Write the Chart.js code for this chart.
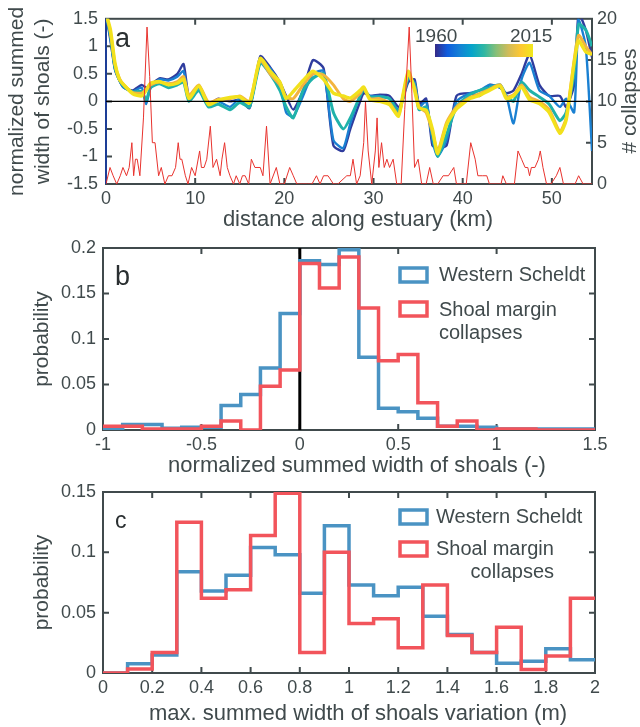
<!DOCTYPE html>
<html>
<head>
<meta charset="utf-8">
<script src="https://cdn.jsdelivr.net/npm/chart.js@4.4.1/dist/chart.umd.min.js"></script>
<style>
  html, body { margin: 0; padding: 0; background: #fff; }
  #wrap { position: relative; width: 640px; height: 727px; }
  canvas { position: absolute; left: 0; top: 0; }
</style>
</head>
<body>
<div id="wrap">
  <canvas id="panel_a" width="640" height="727"></canvas>
  <canvas id="panel_b" width="640" height="727"></canvas>
  <canvas id="panel_c" width="640" height="727"></canvas>
</div>
<script>
// ---- panel a: shoal width along the estuary, some survey years ----
const kmA = [0, 0.5, 1, 1.5, 2, 3, 4, 4.5, 5, 6, 7, 8, 8.7, 9.3, 10.4, 11.5, 12.6, 13.9, 15, 16.1,
  17.3, 18.4, 19.5, 20.2, 21, 22.1, 23.2, 24.4, 25.5, 26.6, 27.4, 28.5, 28.9, 29.6, 30.7, 31.8,
  32.8, 33.3, 33.9, 34.6, 35.1, 35.9, 36.6, 37.2, 38.2, 39.3, 40.8, 41.9, 43, 44.2, 44.9, 45.7,
  46.6, 47.5, 48.6, 49.7, 50.9, 51.6, 52.5, 53, 53.8, 54.5];

const shoal1960 = [1.6, 1.1, 0.58, 0.38, 0.25, 0.2, 0.3, 0.25, 0.3, 0.42, 0.4, 0.5, 0.68, 0.1, 0.28, -0.05, 0.05,
  0.0, 0.03, -0.12, 0.82, 0.62, 0.35, 0.1, -0.15, 0.2, 0.75, 0.6, -0.8, -0.9, -0.5, 0.0, 0.15,
  0.1, 0.12, 0.1, -0.1, 0.05, 0.35, 0.4, -0.05, 0.05, -0.8, -0.85, -0.8, 0.1, 0.15, 0.1, 0.3,
  0.25, 0.15, 0.2, 0.5, 0.85, 0.3, 0.1, 0.1, -0.1, 0.3, 1.6, 1.3, 0.8];
const shoal1975 = [1.6, 1.15, 0.6, 0.38, 0.25, 0.18, 0.25, -0.05, 0.25, 0.4, 0.38, 0.45, 0.55, 0.05, 0.25, -0.08, 0.0,
  -0.1, 0.05, -0.1, 0.72, 0.6, 0.3, -0.2, -0.28, 0.1, 0.5, 0.55, -0.7, -0.85, -0.4, 0.1, 0.2,
  0.1, 0.1, 0.05, -0.15, 0.05, 0.4, 0.35, -0.1, 0.0, -0.7, -1.0, -0.7, 0.0, 0.15, 0.2, 0.3,
  0.25, 0.1, -0.4, 0.4, 0.7, 0.2, 0.1, -0.1, 0.05, -0.2, 1.5, 1.0, -0.9];
const shoal1990 = [1.6, 1.2, 0.62, 0.4, 0.27, 0.17, 0.18, 0.02, 0.25, 0.32, 0.25, 0.3, 0.35, 0.0, 0.2, -0.1, -0.05,
  -0.15, -0.02, -0.1, 0.7, 0.5, 0.2, -0.1, -0.3, 0.2, 0.42, 0.5, -0.2, -0.5, -0.3, 0.1, 0.22,
  0.08, 0.08, 0.05, -0.2, 0.05, 0.45, 0.3, -0.15, -0.1, -0.6, -1.0, -0.6, -0.1, 0.12, 0.2, 0.25,
  0.3, 0.1, 0.0, 0.35, 0.2, 0.08, -0.05, -0.35, -0.2, 0.5, 1.4, 1.3, 1.0];
const shoal2005 = [1.6, 1.25, 0.68, 0.42, 0.3, 0.16, 0.15, 0.22, 0.3, 0.35, 0.32, 0.36, 0.45, 0.1, 0.3, -0.02, 0.04,
  0.05, 0.1, 0.0, 0.75, 0.5, 0.3, 0.08, 0.05, 0.3, 0.5, 0.48, 0.3, 0.05, 0.0, 0.15, 0.25,
  0.05, 0.05, -0.03, -0.25, 0.1, 0.5, 0.25, -0.1, -0.2, -0.55, -0.9, -0.38, -0.1, 0.07, 0.14, 0.22,
  0.3, 0.08, 0.12, 0.3, 0.08, 0.0, -0.15, -0.55, -0.3, 0.75, 1.2, 1.0, 0.85];
const shoal2015 = [1.6, 1.3, 0.7, 0.4, 0.3, 0.14, 0.1, 0.2, 0.33, 0.36, 0.3, 0.33, 0.4, 0.05, 0.28, -0.06, 0.02,
  0.07, 0.08, -0.03, 0.78, 0.55, 0.35, 0.05, 0.18, 0.38, 0.55, 0.4, 0.15, 0.1, 0.06, 0.2, 0.26,
  0.03, 0.0, -0.06, -0.27, 0.12, 0.55, 0.2, -0.12, -0.16, -0.5, -0.95, -0.42, -0.14, 0.05, 0.11, 0.2,
  0.28, 0.05, 0.1, 0.26, 0.03, -0.04, -0.2, -0.58, -0.34, 0.7, 1.1, 0.9, 0.85];

const collapseKm = [0, 0.45, 0.8, 1.2, 1.6, 1.9, 2.3, 2.6, 2.9, 3.1,
  3.3, 3.5, 3.8, 4.2, 4.6, 4.9, 5.2, 5.5, 5.9, 6.2,
  6.6, 7.0, 7.4, 7.8, 8.1, 8.3, 8.5, 8.9, 9.2, 9.6,
  10.0, 10.5, 10.7, 11.0, 11.3, 11.7, 12.0, 12.4, 12.8, 13.0,
  13.3, 13.6, 13.9, 14.3, 14.6, 15.0, 15.3, 15.6, 16.0, 16.3,
  16.7, 17.3, 17.6, 18.0, 18.4, 19.1, 19.5, 20.0, 20.6, 21.0,
  21.4, 22.0, 22.6, 23.1, 23.6, 24.0, 24.4, 24.9, 25.5, 26.0,
  27.0, 27.4, 27.7, 28.1, 28.5, 28.9, 29.1, 29.4, 29.8, 30.2,
  30.4, 30.6, 30.9, 31.2, 31.5, 31.8, 32.2, 32.6, 33.1, 33.5,
  34.0, 34.3, 34.6, 35.0, 35.4, 35.9, 36.3, 36.7, 37.2, 37.8,
  38.4, 39.0, 39.3, 40.0, 40.4, 40.9, 41.4, 41.7, 42.2, 42.7,
  43.0, 44.3, 44.5, 44.9, 45.8, 46.2, 46.6, 47.0, 47.3, 47.5,
  47.7, 48.1, 48.5, 48.7, 49.0, 49.4, 49.9, 50.5, 50.9, 51.3,
  52.6, 53.0, 53.5, 54.5];
const collapseCount = [0, 2, 1, 0, 1, 2, 1, 2, 5, 1,
  3, 3, 1, 8, 19, 13, 5, 5, 1, 2,
  0, 1, 1, 2, 5, 3, 3, 1, 0, 2,
  1, 4, 2, 2, 3, 7, 2, 3, 1, 3,
  5, 2, 1, 0, 1, 0, 1, 1, 0, 3,
  2, 2, 1, 7, 0, 2, 0, 0, 2, 1,
  0, 0, 0, 0, 1, 0, 1, 1, 0, 0,
  1, 1, 3, 0, 1, 5, 10, 4, 0, 4,
  8, 2, 5, 2, 3, 2, 3, 0, 0, 9,
  19, 11, 2, 3, 0, 0, 2, 0, 0, 1,
  1, 2, 0, 0, 0, 5, 3, 1, 1, 1,
  0, 0, 1, 0, 0, 4, 3, 2, 2, 1,
  2, 2, 3, 4, 2, 0, 0, 1, 2, 0,
  0, 1, 0, 0];

const yearRange = ["1960", "2015"];

// ---- panel b: histogram of normalized summed width ----
const edgesB = [-1, -0.9, -0.8, -0.7, -0.6, -0.5, -0.4, -0.3, -0.2, -0.1, 0, 0.1, 0.2,
  0.3, 0.4, 0.5, 0.6, 0.7, 0.8, 0.9, 1, 1.1, 1.2, 1.3, 1.4, 1.5];
const scheldtB = [0.001, 0.006, 0.006, 0.002, 0.003, 0.003, 0.027, 0.039, 0.068, 0.128,
  0.186, 0.182, 0.198, 0.080, 0.024, 0.020, 0.013, 0.004, 0.004, 0.003,
  0.001, 0.001, 0.001, 0.001, 0.001];
const collapsesB = [0.004, 0.004, 0.001, 0.001, 0.001, 0.004, 0.010, 0.000, 0.048, 0.066,
  0.183, 0.156, 0.190, 0.134, 0.076, 0.083, 0.030, 0.004, 0.010, 0.000,
  0.001, 0.001, 0.000, 0.000, 0.000];

// ---- panel c: histogram of max. summed width variation ----
const edgesC = [0, 0.1, 0.2, 0.3, 0.4, 0.5, 0.6, 0.7, 0.8, 0.9, 1, 1.1, 1.2, 1.3, 1.4,
  1.5, 1.6, 1.7, 1.8, 1.9, 2];
const scheldtC = [0, 0.0077, 0.015, 0.084, 0.068, 0.081, 0.104, 0.098, 0.066, 0.122,
  0.073, 0.064, 0.071, 0.047, 0.032, 0.017, 0.008, 0.0097, 0.020, 0.011];
const collapsesC = [0, 0.0033, 0.017, 0.125, 0.062, 0.069, 0.114, 0.149, 0.017, 0.100,
  0.041, 0.045, 0.021, 0.073, 0.031, 0.017, 0.038, 0.003, 0.014, 0.062];

const legendNames = ["Western Scheldt", "Shoal margin", "collapses"];

const GRAY = "#404a4c";
const INK = "#2a2f31";
const BLUE = "#4a93c3";
const RED = "#f2545b";
const FONT = '"Liberation Sans", Arial, Helvetica, sans-serif';

Chart.defaults.font.family = FONT;
Chart.defaults.color = GRAY;
Chart.defaults.animation = false;

function pts(xs, ys) {
  return xs.map((x, i) => ({ x: x, y: ys[i] }));
}
// stairs: one point per left bin edge, last edge repeats the last value
function stairs(edges, vals) {
  return edges.map((x, i) => ({ x: x, y: vals[Math.min(i, vals.length - 1)] }));
}
// matlab-like tick text: 1 not 1.0, 0.2 not 0.20
const plain = v => String(+Number(v).toFixed(3));

function write(ctx, s, x, y, size, color, align, rot) {
  ctx.save();
  ctx.font = size + "px " + FONT;
  ctx.fillStyle = color;
  ctx.textAlign = align || "left";
  ctx.textBaseline = "alphabetic";
  ctx.translate(x, y);
  if (rot) ctx.rotate(rot);
  ctx.fillText(s, 0, 0);
  ctx.restore();
}

// frame with inward ticks on all sides, plus extra drawing hooks
function deco(cfg) {
  return {
    id: "deco",
    beforeDatasetsDraw(chart) {
      const { ctx, chartArea: a, scales } = chart;
      ctx.save();
      ctx.strokeStyle = GRAY;
      ctx.lineWidth = 2;
      ctx.beginPath();
      scales.x.ticks.forEach(t => {
        const px = scales.x.getPixelForValue(t.value);
        if (px <= a.left + 1 || px >= a.right - 1) return;
        ctx.moveTo(px, a.bottom); ctx.lineTo(px, a.bottom - 6);
        ctx.moveTo(px, a.top); ctx.lineTo(px, a.top + 6);
      });
      scales.y.ticks.forEach(t => {
        const py = scales.y.getPixelForValue(t.value);
        if (py <= a.top + 1 || py >= a.bottom - 1) return;
        ctx.moveTo(a.left, py); ctx.lineTo(a.left + 6, py);
        if (!scales.y2) { ctx.moveTo(a.right, py); ctx.lineTo(a.right - 6, py); }
      });
      if (scales.y2) {
        scales.y2.ticks.forEach(t => {
          const py = scales.y2.getPixelForValue(t.value);
          if (py <= a.top + 1 || py >= a.bottom - 1) return;
          ctx.moveTo(a.right, py); ctx.lineTo(a.right - 6, py);
        });
      }
      ctx.stroke();
      ctx.strokeRect(a.left, a.top, a.width, a.height);
      if (cfg.leftEdge) {
        ctx.strokeStyle = cfg.leftEdge;
        ctx.beginPath();
        ctx.moveTo(a.left, a.top); ctx.lineTo(a.left, a.bottom);
        ctx.stroke();
      }
      if (cfg.before) cfg.before(chart);
      ctx.restore();
    },
    afterDatasetsDraw(chart) {
      chart.ctx.save();
      if (cfg.after) cfg.after(chart);
      chart.ctx.restore();
    }
  };
}

function drawLegend(ctx, L) {
  ctx.lineWidth = 3.5;
  ctx.strokeStyle = BLUE;
  ctx.strokeRect(400, L.b1, 27, 14);
  ctx.strokeStyle = RED;
  ctx.strokeRect(400, L.b2, 27, 14);
  write(ctx, legendNames[0], L.tx, L.t1, 20, GRAY);
  write(ctx, legendNames[1], L.tx, L.t2, 20, GRAY);
  write(ctx, legendNames[2], L.x3, L.t3, 20, GRAY, L.a3);
}

const tickFont = { size: 18 };
const titleFont = { size: 21 };

// ---------------- panel a ----------------
const yearLines = [
  { data: shoal2015, color: "#f2e11c", w: 3.4 },
  { data: shoal2005, color: "#f3b43f", w: 3 },
  { data: shoal1990, color: "#1fb2aa", w: 3 },
  { data: shoal1975, color: "#1a80d2", w: 2.4 },
  { data: shoal1960, color: "#2f3c9e", w: 2.4 }
];

new Chart(document.getElementById("panel_a"), {
  type: "line",
  data: {
    datasets: [
      {
        label: "collapses",
        data: pts(collapseKm, collapseCount),
        yAxisID: "y2",
        borderColor: "#e8332e",
        borderWidth: 1,
        pointRadius: 0
      }
    ].concat(yearLines.map(l => ({
      data: pts(kmA, l.data),
      yAxisID: "y",
      borderColor: l.color,
      borderWidth: l.w,
      pointRadius: 0,
      tension: 0.2
    })))
  },
  options: {
    responsive: false,
    layout: { padding: { top: 18, bottom: 493, left: 0, right: 0 } },
    plugins: { legend: { display: false }, tooltip: { enabled: false } },
    scales: {
      x: {
        type: "linear",
        min: 0,
        max: 54.5,
        grid: { display: false, drawTicks: false },
        border: { display: false },
        ticks: { stepSize: 10, includeBounds: false, padding: 4, font: tickFont, maxRotation: 0, callback: plain },
        afterFit: s => { s.height = 50; }
      },
      y: {
        min: -1.5,
        max: 1.5,
        grid: { display: false, drawTicks: false },
        border: { display: false },
        ticks: { stepSize: 0.5, padding: 8, font: tickFont, callback: plain },
        title: {
          display: true,
          text: ["normalized summed", "width of shoals (-)"],
          font: titleFont,
          padding: { top: 5, bottom: 0 }
        },
        afterFit: s => { s.width = 106; }
      },
      y2: {
        position: "right",
        min: 0,
        max: 20,
        grid: { display: false, drawTicks: false },
        border: { display: false },
        ticks: { stepSize: 5, padding: 5, font: tickFont, callback: plain },
        afterFit: s => { s.width = 48; }
      }
    }
  },
  plugins: [deco({
    leftEdge: "#1d3d96",
    after(chart) {
      const { ctx, chartArea: a, scales } = chart;
      const y0 = scales.y.getPixelForValue(0);
      ctx.strokeStyle = "#000";
      ctx.lineWidth = 1.2;
      ctx.beginPath();
      ctx.moveTo(a.left, y0); ctx.lineTo(a.right, y0);
      ctx.stroke();
      // colour bar
      const g = ctx.createLinearGradient(435, 0, 533, 0);
      ["#352a87", "#0f5cdd", "#1481d6", "#06a4ca", "#2eb7a4", "#87bf77", "#d1bb59", "#fec832", "#f0e81c"]
        .forEach((c, i, arr) => g.addColorStop(i / (arr.length - 1), c));
      ctx.fillStyle = g;
      ctx.fillRect(435, 44, 98, 13);
      write(ctx, yearRange[0], 415, 42, 19, GRAY);
      write(ctx, yearRange[1], 510, 42, 19, GRAY);
      write(ctx, "a", 115, 47, 27, INK);
      write(ctx, "distance along estuary (km)", 358, 226, 22, GRAY, "center");
      ctx.save();
      ctx.font = "21px " + FONT;
      ctx.fillStyle = GRAY;
      ctx.textAlign = "center";
      ctx.textBaseline = "middle";
      ctx.translate(630, 101);
      ctx.rotate(-Math.PI / 2);
      ctx.fillText("# collapses", 0, 0);
      ctx.restore();
    }
  })]
});

// ---------------- panels b and c ----------------
function histogram(id, edges, scheldt, collapses, xs, ys, top, bottom, cfg) {
  return new Chart(document.getElementById(id), {
    type: "line",
    data: {
      datasets: [
        { label: legendNames[1], data: stairs(edges, collapses), borderColor: RED, borderWidth: 3.5, pointRadius: 0, stepped: true },
        { label: legendNames[0], data: stairs(edges, scheldt), borderColor: BLUE, borderWidth: 3.5, pointRadius: 0, stepped: true }
      ]
    },
    options: {
      responsive: false,
      layout: { padding: { top: top, bottom: 727 - bottom - 50, left: 0, right: 45 } },
      plugins: { legend: { display: false }, tooltip: { enabled: false } },
      scales: {
        x: {
          type: "linear",
          min: xs.min,
          max: xs.max,
          grid: { display: false, drawTicks: false },
          border: { display: false },
          ticks: { stepSize: xs.step, padding: 4, font: tickFont, maxRotation: 0, callback: plain },
          afterFit: s => { s.height = 50; }
        },
        y: {
          min: 0,
          max: ys.max,
          grid: { display: false, drawTicks: false },
          border: { display: false },
          ticks: { stepSize: ys.step, padding: 7, font: tickFont, callback: plain },
          title: { display: true, text: "probability", font: titleFont, padding: { top: 30, bottom: 0 } },
          afterFit: s => { s.width = 103; }
        }
      }
    },
    plugins: [deco(cfg)]
  });
}

histogram("panel_b", edgesB, scheldtB, collapsesB,
  { min: -1, max: 1.5, step: 0.5 }, { max: 0.2, step: 0.05 }, 248, 430, {
    before(chart) {
      const { ctx, chartArea: a, scales } = chart;
      const x0 = scales.x.getPixelForValue(0);
      ctx.strokeStyle = "#000";
      ctx.lineWidth = 3;
      ctx.beginPath();
      ctx.moveTo(x0, a.top); ctx.lineTo(x0, a.bottom);
      ctx.stroke();
    },
    after(chart) {
      const ctx = chart.ctx;
      write(ctx, "b", 115, 285, 27, INK);
      write(ctx, "normalized summed width of shoals (-)", 357, 472, 22, GRAY, "center");
      drawLegend(ctx, { b1: 268, b2: 302, tx: 439, t1: 281, t2: 316, x3: 439, t3: 339, a3: "left" });
    }
  });

histogram("panel_c", edgesC, scheldtC, collapsesC,
  { min: 0, max: 2, step: 0.2 }, { max: 0.15, step: 0.05 }, 492, 673, {
    after(chart) {
      const ctx = chart.ctx;
      write(ctx, "c", 115, 528, 23, INK);
      write(ctx, "max. summed width of shoals variation (m)", 358, 720, 22, GRAY, "center");
      drawLegend(ctx, { b1: 510, b2: 542, tx: 436, t1: 523, t2: 555, x3: 554, t3: 578, a3: "right" });
    }
  });
</script>
</body>
</html>
